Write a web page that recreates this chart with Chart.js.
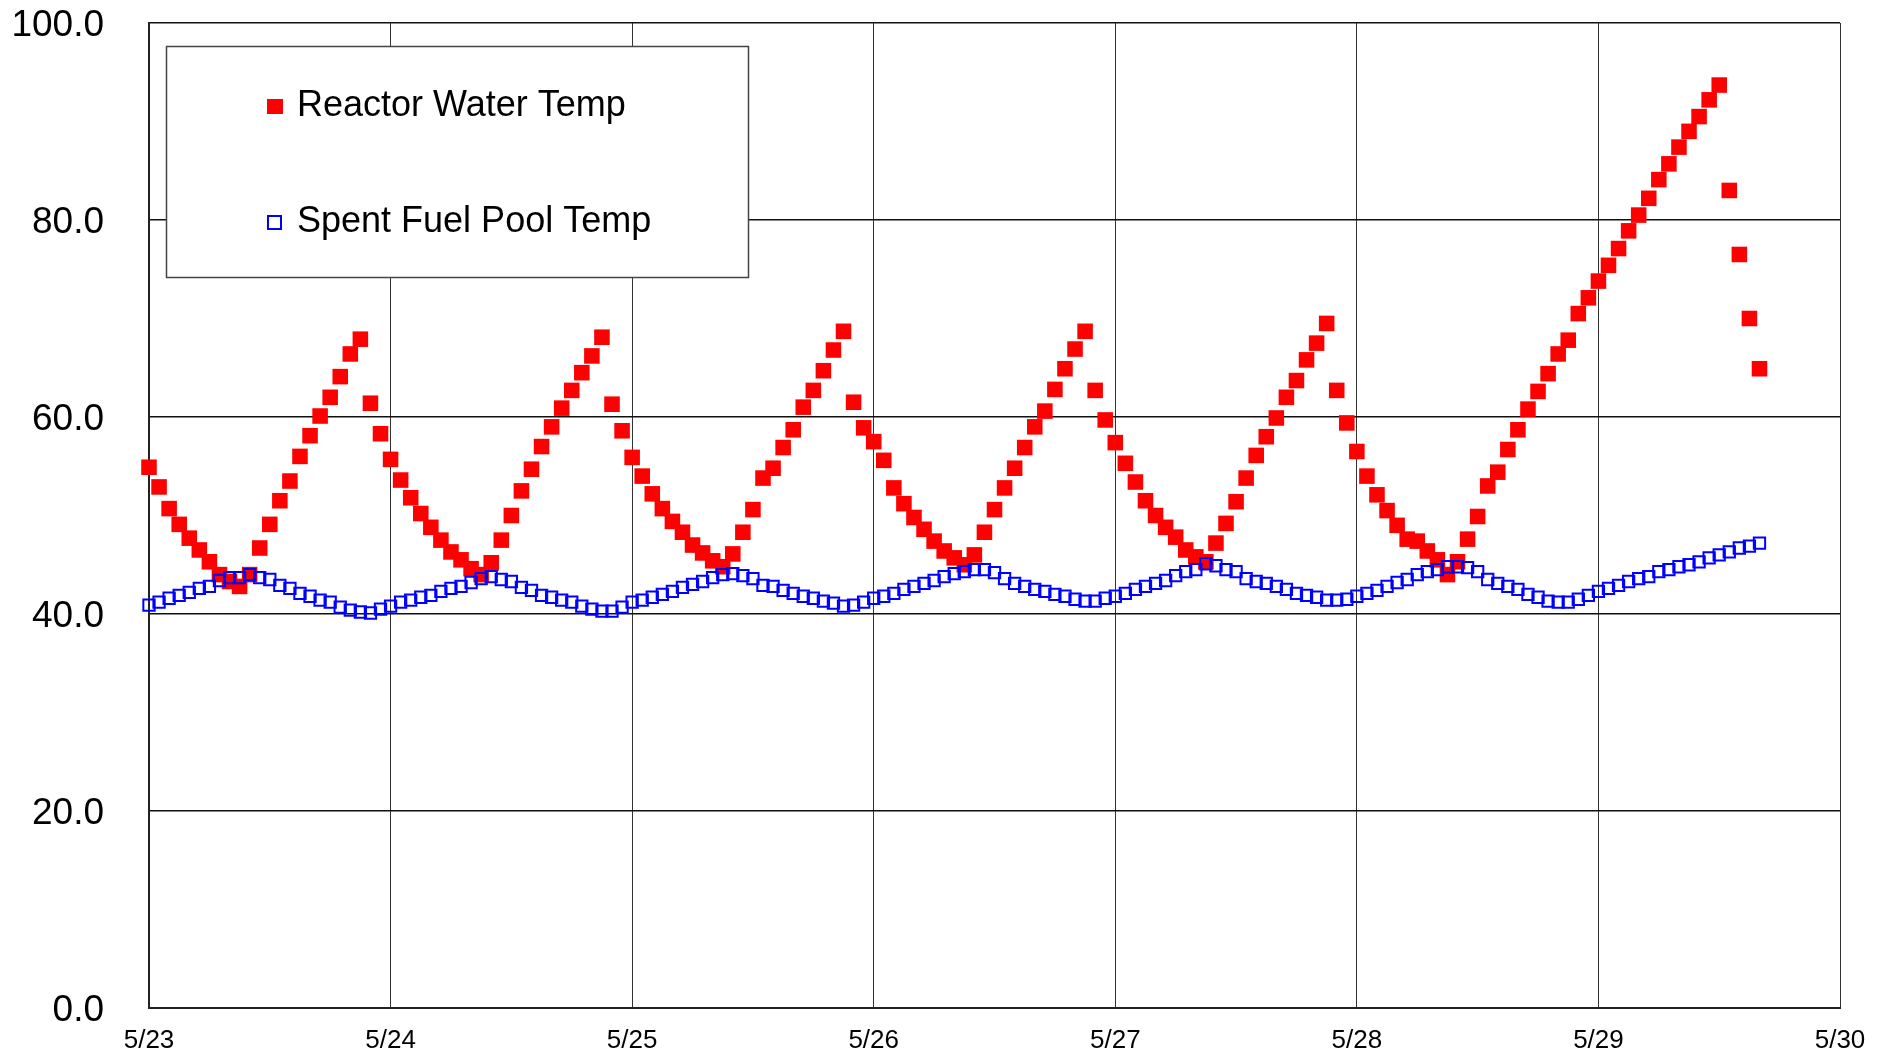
<!DOCTYPE html>
<html>
<head>
<meta charset="utf-8">
<title>Reactor Water / Spent Fuel Pool Temp</title>
<script src="https://cdn.jsdelivr.net/npm/chart.js@4.4.1/dist/chart.umd.min.js"></script>
<style>
  body { margin: 0; background: #fff; }
  #wrap { width: 1892px; height: 1059px; }
</style>
</head>
<body>
<div id="wrap"><canvas id="chart" width="1892" height="1059"></canvas></div>
<script>
// x axis day labels (one every 24 h)
const dayLabels = ['5/23', '5/24', '5/25', '5/26', '5/27', '5/28', '5/29', '5/30'];

// hourly readings starting 5/23 0:00
const reactorTemp = [
  54.9, 52.9, 50.7, 49.1, 47.7, 46.5, 45.3, 44.0, 43.3, 42.8, 44.0, 46.7, 49.1, 51.5, 53.5, 56.0, 58.1, 60.1, 62.0, 64.1, 66.4, 67.9, 61.4, 58.3,
  55.7, 53.6, 51.8, 50.2, 48.8, 47.5, 46.3, 45.5, 44.6, 44.0, 45.2, 47.5, 50.0, 52.5, 54.7, 57.0, 59.0, 60.9, 62.7, 64.5, 66.2, 68.1, 61.3, 58.6,
  55.9, 54.0, 52.2, 50.7, 49.4, 48.3, 47.0, 46.2, 45.4, 44.8, 46.1, 48.3, 50.6, 53.8, 54.8, 56.9, 58.7, 61.0, 62.7, 64.7, 66.8, 68.7, 61.5, 58.9,
  57.5, 55.6, 52.8, 51.2, 49.8, 48.6, 47.4, 46.4, 45.7, 45.0, 46.0, 48.3, 50.6, 52.8, 54.8, 56.9, 59.0, 60.6, 62.8, 64.9, 66.9, 68.7, 62.7, 59.7,
  57.4, 55.3, 53.4, 51.5, 50.0, 48.8, 47.8, 46.5, 45.8, 45.3, 47.2, 49.2, 51.4, 53.8, 56.1, 58.0, 59.9, 62.0, 63.7, 65.8, 67.5, 69.5, 62.7, 59.4,
  56.5, 54.0, 52.1, 50.5, 49.0, 47.6, 47.4, 46.4, 45.5, 44.0, 45.3, 47.6, 49.9, 53.0, 54.4, 56.7, 58.7, 60.8, 62.6, 64.4, 66.4, 67.8, 70.5, 72.1,
  73.8, 75.4, 77.1, 78.9, 80.5, 82.2, 84.1, 85.7, 87.4, 89.0, 90.5, 92.2, 93.7, 83.0, 76.5, 70.0, 64.9
];

const poolTemp = [
  40.9, 41.2, 41.6, 41.9, 42.2, 42.6, 42.8, 43.4, 43.7, 43.7, 44.0, 43.7, 43.5, 42.9, 42.6, 42.1, 41.8, 41.4, 41.2, 40.7, 40.4, 40.2, 40.1, 40.5,
  40.8, 41.2, 41.4, 41.7, 41.9, 42.3, 42.6, 42.8, 43.2, 43.6, 43.8, 43.5, 43.3, 42.7, 42.4, 41.9, 41.7, 41.4, 41.2, 40.8, 40.5, 40.3, 40.3, 40.7,
  41.2, 41.4, 41.7, 42.0, 42.3, 42.7, 43.0, 43.3, 43.7, 44.0, 44.1, 43.9, 43.6, 42.9, 42.8, 42.4, 42.1, 41.8, 41.6, 41.3, 41.1, 40.8, 40.9, 41.2,
  41.6, 41.8, 42.1, 42.5, 42.8, 43.1, 43.4, 43.8, 44.1, 44.3, 44.5, 44.5, 44.2, 43.6, 43.1, 42.8, 42.5, 42.3, 42.0, 41.8, 41.5, 41.3, 41.3, 41.6,
  41.8, 42.1, 42.5, 42.8, 43.1, 43.4, 43.9, 44.3, 44.5, 45.1, 44.9, 44.5, 44.3, 43.6, 43.3, 43.1, 42.8, 42.5, 42.1, 41.9, 41.7, 41.4, 41.4, 41.5,
  41.8, 42.1, 42.4, 42.8, 43.2, 43.5, 44.0, 44.3, 44.5, 44.8, 44.8, 44.7, 44.3, 43.5, 43.1, 42.8, 42.5, 42.0, 41.7, 41.3, 41.2, 41.2, 41.5, 41.9,
  42.3, 42.6, 42.9, 43.3, 43.6, 43.8, 44.3, 44.5, 44.8, 45.0, 45.3, 45.7, 46.0, 46.3, 46.7, 46.9, 47.2
];

const seriesNames = ['Reactor Water Temp', 'Spent Fuel Pool Temp'];

const toPoints = arr => arr.map((v, h) => ({ x: h, y: v }));

// legend box drawn inside the plot
const boxLegend = {
  id: 'boxLegend',
  afterDraw(chart) {
    const ctx = chart.ctx;
    ctx.save();
    ctx.fillStyle = '#fff';
    ctx.fillRect(166, 46, 582, 231);
    ctx.strokeStyle = '#444';
    ctx.lineWidth = 1.5;
    ctx.strokeRect(166.5, 46.5, 582, 231);

    ctx.fillStyle = '#ff0000';
    ctx.fillRect(267, 99, 16, 15);
    ctx.strokeStyle = '#0000ff';
    ctx.lineWidth = 2;
    ctx.strokeRect(268, 216, 13, 13);

    ctx.fillStyle = '#000';
    ctx.font = '36px "Liberation Sans", Arial, sans-serif';
    ctx.textBaseline = 'middle';
    ctx.fillText(chart.data.datasets[0].label, 297, 106);
    ctx.fillText(chart.data.datasets[1].label, 297, 222);
    ctx.restore();
  }
};

new Chart(document.getElementById('chart'), {
  type: 'scatter',
  data: {
    datasets: [
      {
        label: seriesNames[0],
        data: toPoints(reactorTemp),
        pointStyle: 'rect',
        pointRadius: 11,
        pointBackgroundColor: '#ff0000',
        pointBorderColor: '#ff0000',
        pointBorderWidth: 0,
        clip: false,
        order: 1
      },
      {
        label: seriesNames[1],
        data: toPoints(poolTemp),
        pointStyle: 'rect',
        pointRadius: 8,
        pointBackgroundColor: 'rgba(0,0,0,0)',
        pointBorderColor: '#0000ff',
        pointBorderWidth: 2,
        clip: false,
        order: 0
      }
    ]
  },
  options: {
    responsive: false,
    animation: false,
    devicePixelRatio: 1,
    layout: { padding: { left: 0, right: 52, top: 23, bottom: 0 } },
    plugins: {
      legend: { display: false },
      tooltip: { enabled: false }
    },
    scales: {
      x: {
        type: 'linear',
        min: 0,
        max: 168,
        afterFit(scale) { scale.height = 51; },
        ticks: {
          stepSize: 24,
          color: '#000',
          padding: 0,
          maxRotation: 0,
          font: { family: '"Liberation Sans", Arial, sans-serif', size: 26 },
          callback: v => dayLabels[v / 24]
        },
        grid: { color: '#333', lineWidth: 1, drawTicks: true, tickLength: 17, tickColor: 'rgba(0,0,0,0)' },
        border: { color: '#222', width: 2 }
      },
      y: {
        min: 0,
        max: 100,
        afterFit(scale) { scale.width = 149; },
        ticks: {
          stepSize: 20,
          color: '#000',
          padding: 0,
          labelOffset: 3,
          font: { family: '"Liberation Sans", Arial, sans-serif', size: 37 },
          callback: v => v.toFixed(1)
        },
        grid: { color: '#111', lineWidth: 1.5, drawTicks: true, tickLength: 45, tickColor: 'rgba(0,0,0,0)' },
        border: { color: '#222', width: 2 }
      }
    }
  },
  plugins: [boxLegend]
});
</script>
</body>
</html>
